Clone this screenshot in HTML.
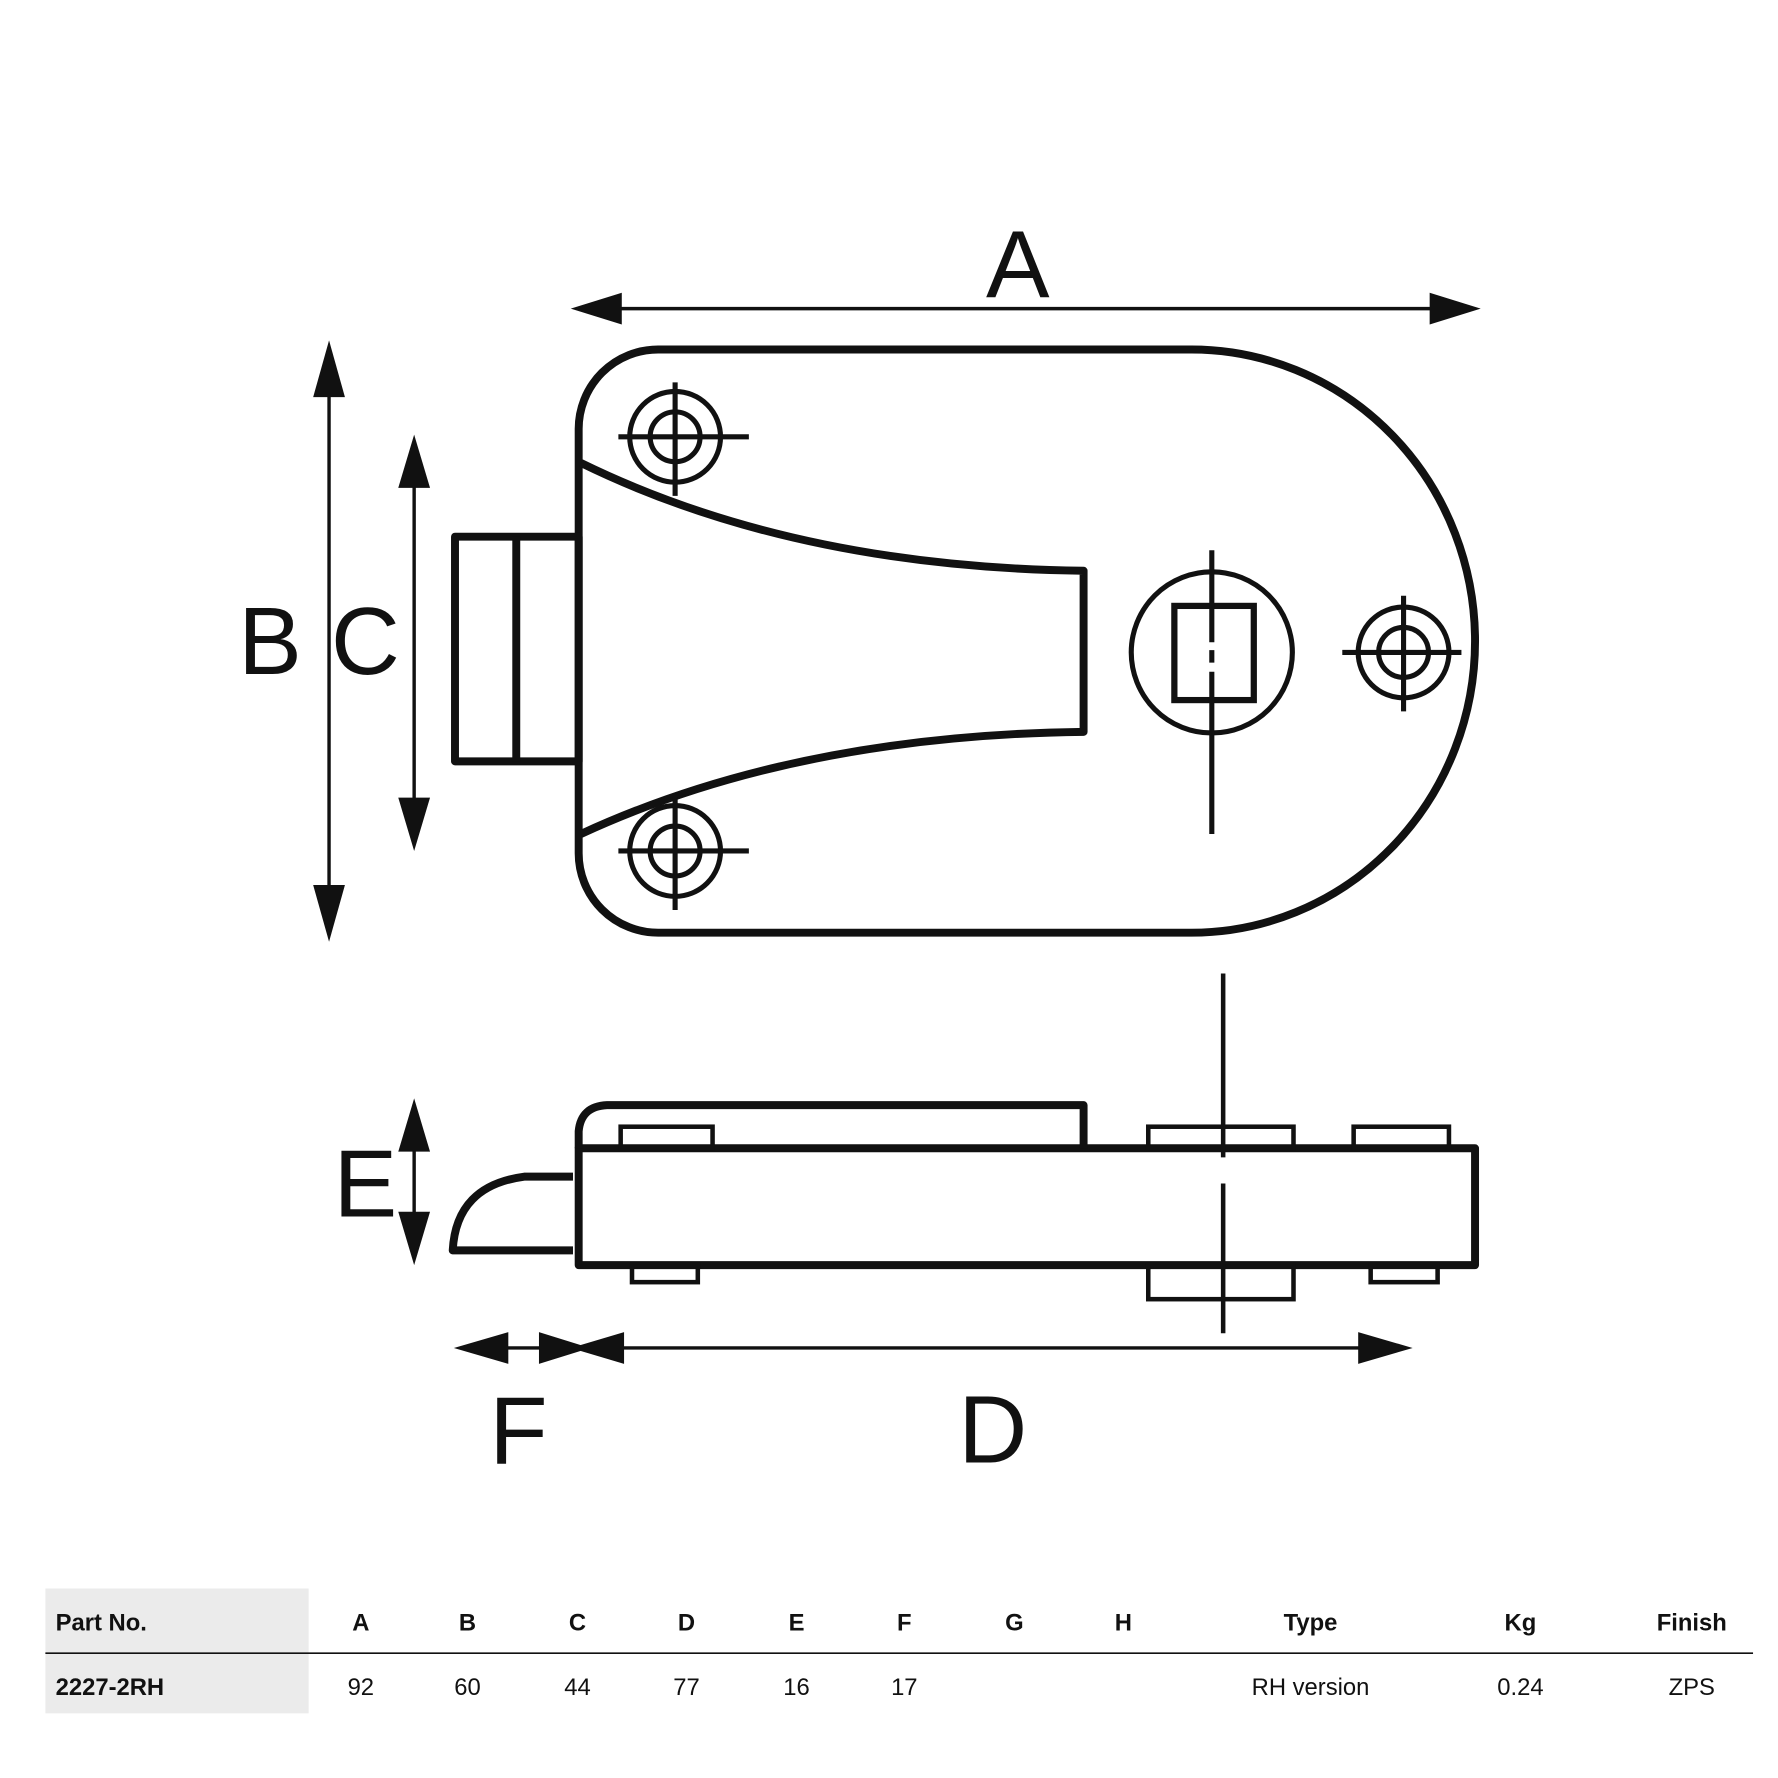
<!DOCTYPE html>
<html><head><meta charset="utf-8"><style>html,body{margin:0;padding:0;background:#fff}svg{display:block}</style></head>
<body>
<svg width="1778" height="1778" viewBox="0 0 1567 1567" xmlns="http://www.w3.org/2000/svg">
<g fill="none" stroke="#111" stroke-width="7" stroke-linejoin="round">
<path d="M580,308 H1050 A250,257 0 0 1 1050,822 H580 A70,70 0 0 1 510,752 V378 A70,70 0 0 1 580,308 Z"/>
<rect x="401" y="473" width="109" height="198"/>
<line x1="455" y1="473" x2="455" y2="671"/>
<path d="M512,408 Q700,500 955,503 V645 Q700,648 512,735"/>
</g>
<g fill="none" stroke="#111" stroke-width="4.5">
<circle cx="1068" cy="575" r="71"/>
<rect x="1035" y="534" width="70" height="83" stroke-width="5.5"/>
<circle cx="595" cy="385" r="40"/><circle cx="595" cy="385" r="22"/>
<circle cx="595" cy="750" r="40"/><circle cx="595" cy="750" r="22"/>
<circle cx="1237" cy="575" r="40"/><circle cx="1237" cy="575" r="22"/>
<path d="M545,385H660M595,337V437M545,750H660M595,702V802M1183,575H1288M1237,525V627"/>
<path d="M1068,485V566M1068,573V584M1068,592V735"/>
</g>
<g fill="none" stroke="#111" stroke-width="7" stroke-linejoin="round">
<rect x="510" y="1012" width="790" height="103"/>
<path d="M510,1012 V997 Q512,975 535,974 H955 V1012"/>
<path d="M505,1037 H462 Q402,1045 399,1102 H505"/>
</g>
<g fill="none" stroke="#111" stroke-width="4">
<rect x="547" y="993" width="81" height="19"/>
<rect x="1012" y="993" width="128" height="19"/>
<rect x="1193" y="993" width="84" height="19"/>
<rect x="557" y="1115" width="58" height="15"/>
<rect x="1012" y="1115" width="128" height="30"/>
<rect x="1208" y="1115" width="59" height="15"/>
<path d="M1078,858V1020M1078,1043V1175"/>
</g>
<g stroke="#111" stroke-width="3">
<line x1="520" y1="272" x2="1290" y2="272"/>
<line x1="290" y1="320" x2="290" y2="810"/>
<line x1="365" y1="400" x2="365" y2="735"/>
<line x1="365" y1="985" x2="365" y2="1100"/>
<line x1="410" y1="1188" x2="1235" y2="1188"/>
</g>
<g fill="#111">
<polygon points="503,272 548,258 548,286"/><polygon points="1305,272 1260,258 1260,286"/>
<polygon points="290,300 276,350 304,350"/><polygon points="290,830 276,780 304,780"/>
<polygon points="365,383 351,430 379,430"/><polygon points="365,750 351,703 379,703"/>
<polygon points="365,968 351,1015 379,1015"/><polygon points="365,1115 351,1068 379,1068"/>
<polygon points="400,1188 448,1174 448,1202"/><polygon points="520,1188 475,1174 475,1202"/>
<polygon points="503,1188 550,1174 550,1202"/><polygon points="1245,1188 1197,1174 1197,1202"/>
</g>
<g font-family="Liberation Sans, sans-serif" font-size="84" fill="#111" text-anchor="middle">
<text x="897" y="262">A</text>
<text x="238" y="594">B</text>
<text x="322" y="594">C</text>
<text x="322" y="1072">E</text>
<text x="457" y="1290">F</text>
<text x="875" y="1289">D</text>
</g>
<rect x="40" y="1400" width="232" height="110" fill="#ebebeb"/>
<line x1="40" y1="1457" x2="1545" y2="1457" stroke="#111" stroke-width="1.5"/>
<g font-family="Liberation Sans, sans-serif" font-size="21" fill="#111" text-anchor="middle">
<g font-weight="bold">
<text x="49" y="1437" text-anchor="start">Part No.</text>
<text x="318" y="1437">A</text><text x="412" y="1437">B</text><text x="509" y="1437">C</text>
<text x="605" y="1437">D</text><text x="702" y="1437">E</text><text x="797" y="1437">F</text>
<text x="894" y="1437">G</text><text x="990" y="1437">H</text><text x="1155" y="1437">Type</text>
<text x="1340" y="1437">Kg</text><text x="1491" y="1437">Finish</text>
<text x="49" y="1494" text-anchor="start">2227-2RH</text>
</g>
<text x="318" y="1494">92</text><text x="412" y="1494">60</text><text x="509" y="1494">44</text>
<text x="605" y="1494">77</text><text x="702" y="1494">16</text><text x="797" y="1494">17</text>
<text x="1155" y="1494">RH version</text><text x="1340" y="1494">0.24</text><text x="1491" y="1494">ZPS</text>
</g>
</svg>
</body></html>
